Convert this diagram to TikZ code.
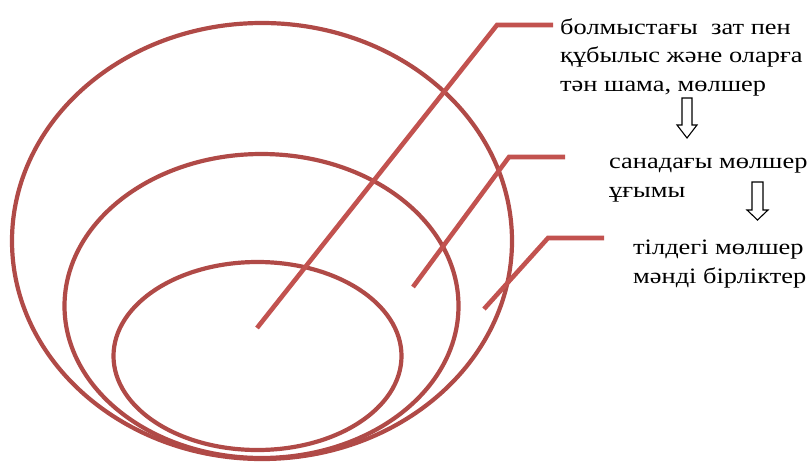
\documentclass[tikz,border=0pt]{standalone}
\usepackage{fontspec}
\setmainfont{Liberation Serif}[FakeStretch=1.2]
\definecolor{ellcol}{RGB}{176,74,71}
\definecolor{linecol}{RGB}{194,82,79}
\tikzset{
  ring/.style={draw=ellcol, line width=4.2pt},
  leader/.style={draw=linecol, line width=4.6pt, line join=miter},
  hollowarrow/.style={draw=black, line width=1.1pt, fill=white, line join=miter},
  label/.style={anchor=base west, inner sep=0pt, align=left, font=\fontsize{22}{28.3}\selectfont}
}
\begin{document}
\begin{tikzpicture}[x=1pt, y=-1pt]
\useasboundingbox (0,0) rectangle (811,461);
% ellipses
\draw[ring] (262,241) ellipse [x radius=250pt, y radius=218pt];
\draw[ring] (261.5,306) ellipse [x radius=197pt, y radius=152pt];
\draw[ring] (257.5,356) ellipse [x radius=144pt, y radius=94pt];
% text
\node[label] (t1) at (560,91) {болмыстағы \ зат пен\\құбылыс және оларға\\тән шама, мөлшер};
\node[label] (t2) at (609,197) {санадағы мөлшер\\ұғымы};
\node[label] (t3) at (633,283) {тілдегі мөлшер\\мәнді бірліктер};
% leader lines
\coordinate (a1) at (257,328);
\coordinate (b1) at (497,25);
\coordinate (c1) at (553,25);
\coordinate (a2) at (413,287);
\coordinate (b2) at (509,157);
\coordinate (c2) at (565,157);
\coordinate (a3) at (484,309);
\coordinate (b3) at (548,238);
\coordinate (c3) at (604,238);
\draw[leader] (a1) -- (b1) -- (c1);
\draw[leader] (a2) -- (b2) -- (c2);
\draw[leader] (a3) -- (b3) -- (c3);
% hollow arrows
\draw[hollowarrow] (682,98) -- (692,98) -- (692,125) -- (697,125) -- (687,138) -- (677,125) -- (682,125) -- cycle;
\draw[hollowarrow] (752,182) -- (763,182) -- (763,210) -- (768,210) -- (757.5,220) -- (747,210) -- (752,210) -- cycle;
\end{tikzpicture}
\end{document}
